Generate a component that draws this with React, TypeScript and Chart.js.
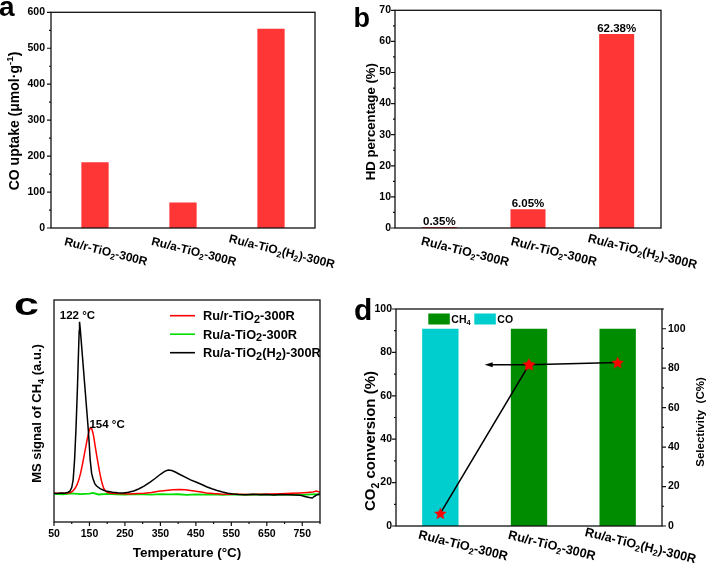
import React, { useEffect, useRef } from 'react';
import { Chart, registerables } from 'chart.js';
Chart.register(...registerables);

const FONT = "'Liberation Sans', Arial, Helvetica, sans-serif";
const RED = '#ff3636';
const GREEN_BAR = '#008c00';
const CYAN_BAR = '#00cdcd';

// ---------- Panel a : CO uptake ----------
const catsA = ['Ru/r-TiO_2-300R', 'Ru/a-TiO_2-300R', 'Ru/a-TiO_2(H_2)-300R'];
const coUptake = [183, 71, 554];

// ---------- Panel b : HD percentage ----------
const catsB = ['Ru/a-TiO_2-300R', 'Ru/r-TiO_2-300R', 'Ru/a-TiO_2(H_2)-300R'];
const hdPercent = [0.35, 6.05, 62.38];
const hdLabels = ['0.35%', '6.05%', '62.38%'];

// ---------- Panel c : CH4 MS signal (TPSR) ----------
const seriesNamesC = ['Ru/r-TiO_2-300R', 'Ru/a-TiO_2-300R', 'Ru/a-TiO_2(H_2)-300R'];
const seriesColorsC = ['#ff0000', '#00dd00', '#000000'];
const tempRed = [50, 65, 80, 95, 100, 105, 110, 115, 120, 125, 130, 135, 140, 144, 148, 152, 156, 160, 163, 166, 170, 174, 178, 182, 186, 190, 195, 200, 210, 225, 245, 265, 285, 305, 325, 345, 365, 385, 405, 420, 435, 450, 465, 480, 500, 520, 545, 570, 600, 630, 660, 690, 720, 745, 765, 780, 790, 800];
const sigRed = [12.9, 13.0, 12.9, 13.2, 13.6, 14.3, 15.3, 16.8, 19.0, 22.0, 25.8, 30.0, 34.2, 37.5, 40.5, 42.3, 42.2, 40.0, 37.3, 34.3, 30.3, 26.6, 23.0, 19.8, 17.2, 15.2, 14.0, 13.4, 13.0, 12.8, 12.7, 12.6, 12.8, 12.9, 13.3, 13.8, 14.2, 14.5, 14.6, 14.5, 14.2, 13.9, 13.5, 13.1, 12.8, 12.6, 12.5, 12.5, 12.4, 12.5, 12.6, 12.7, 12.9, 13.1, 13.3, 13.5, 13.9, 13.4];
const tempGreen = [50, 75, 100, 125, 150, 160, 175, 200, 225, 250, 275, 300, 325, 350, 375, 400, 425, 450, 475, 500, 525, 550, 575, 600, 625, 650, 675, 700, 725, 750, 775, 800];
const sigGreen = [12.7, 12.5, 12.9, 12.6, 12.8, 13.1, 12.4, 12.7, 12.5, 12.3, 12.6, 12.4, 12.3, 12.6, 12.4, 12.5, 12.2, 12.4, 12.3, 12.5, 12.2, 12.4, 12.3, 12.2, 12.4, 12.3, 12.2, 12.4, 12.3, 12.2, 12.4, 12.5];
const tempBlack = [50, 60, 70, 80, 90, 95, 100, 104, 108, 112, 116, 119, 121, 122, 124, 127, 130, 134, 138, 142, 146, 149, 152, 156, 160, 165, 170, 180, 190, 200, 215, 230, 245, 260, 275, 290, 305, 320, 335, 350, 362, 372, 382, 392, 405, 420, 435, 450, 465, 480, 495, 510, 525, 540, 555, 570, 590, 610, 630, 650, 670, 690, 710, 730, 745, 760, 770, 778, 785, 792, 800];
const sigBlack = [13.0, 12.8, 13.1, 13.0, 13.4, 13.9, 15.5, 19.0, 28.0, 42.0, 60.0, 76.0, 86.0, 90.2, 87.0, 81.0, 75.0, 67.0, 59.0, 51.0, 43.0, 36.0, 28.0, 22.0, 19.5, 17.3, 16.2, 15.0, 14.3, 13.8, 13.4, 13.2, 13.1, 13.4, 14.0, 15.0, 16.3, 17.9, 19.6, 21.5, 22.8, 23.4, 23.2, 22.5, 21.4, 20.2, 19.0, 18.0, 17.0, 15.9, 15.0, 14.2, 13.5, 13.0, 12.6, 12.4, 12.3, 12.5, 12.3, 12.4, 12.2, 12.4, 12.3, 12.2, 12.0, 11.4, 11.0, 10.8, 11.6, 12.3, 12.5];
const peakLabels = ['122 °C', '154 °C'];
const peakAnchorT = [116, 150];
const peakAnchorV = [93.2, 44.4];

// ---------- Panel d : CO2 conversion & selectivity ----------
const catsD = ['Ru/a-TiO_2-300R', 'Ru/r-TiO_2-300R', 'Ru/a-TiO_2(H_2)-300R'];
const conversion = [5.8, 74.3, 75.3];
const selectivity = [100, 100, 100];
const mainProduct = ['CO', 'CH_4', 'CH_4'];
const productLegend = ['CH_4', 'CO'];
const arrowToIndex = 0.5;

const productColor = (p: string) => (p === 'CO' ? CYAN_BAR : GREEN_BAR);

// ---------- rich text helpers ----------
type Seg = { t: string; k: 'n' | 'sub' | 'sup' };
function parseRich(s: string): Seg[] {
  const out: Seg[] = [];
  let buf = '';
  let i = 0;
  while (i < s.length) {
    const c = s[i];
    if (c === '_' || c === '^') {
      if (buf) { out.push({ t: buf, k: 'n' }); buf = ''; }
      let content = '';
      if (s[i + 1] === '{') {
        const j = s.indexOf('}', i + 2);
        content = s.slice(i + 2, j);
        i = j + 1;
      } else {
        content = s[i + 1];
        i += 2;
      }
      out.push({ t: content, k: c === '_' ? 'sub' : 'sup' });
    } else {
      buf += c;
      i++;
    }
  }
  if (buf) out.push({ t: buf, k: 'n' });
  return out;
}

function drawRich(ctx: CanvasRenderingContext2D, s: string, x: number, y: number, size: number,
  opts: { align?: 'left' | 'center' | 'right'; angle?: number; color?: string; subScale?: number; subShift?: number; sx?: number } = {}) {
  const segs = parseRich(s);
  const subScale = opts.subScale ?? 0.7;
  ctx.save();
  ctx.translate(x, y);
  if (opts.angle) ctx.rotate(opts.angle);
  if (opts.sx) ctx.scale(opts.sx, 1);
  ctx.fillStyle = opts.color ?? '#000';
  ctx.textBaseline = 'alphabetic';
  ctx.textAlign = 'left';
  const fontFor = (k: string) => `bold ${k === 'n' ? size : size * subScale}px ${FONT}`;
  let W = 0;
  const widths = segs.map((sg) => { ctx.font = fontFor(sg.k); const w = ctx.measureText(sg.t).width; W += w; return w; });
  let cx = opts.align === 'left' ? 0 : opts.align === 'right' ? -W : -W / 2;
  const base = size * 0.36;
  segs.forEach((sg, i) => {
    ctx.font = fontFor(sg.k);
    const dy = sg.k === 'sub' ? size * (opts.subShift ?? 0.22) : sg.k === 'sup' ? -size * 0.4 : 0;
    ctx.fillText(sg.t, cx, base + dy);
    cx += widths[i];
  });
  ctx.restore();
}

function drawLetter(ctx: CanvasRenderingContext2D, ch: string, x: number, baseline: number, size: number, sx = 1) {
  ctx.save();
  ctx.translate(x, baseline);
  ctx.scale(sx, 1);
  ctx.font = `bold ${size}px ${FONT}`;
  ctx.fillStyle = '#000';
  ctx.textBaseline = 'alphabetic';
  ctx.textAlign = 'left';
  ctx.fillText(ch, 0, 0);
  ctx.restore();
}

function drawFrame(ctx: CanvasRenderingContext2D, ca: any) {
  ctx.save();
  ctx.strokeStyle = '#111';
  ctx.lineWidth = 1.3;
  ctx.strokeRect(ca.left, ca.top, ca.right - ca.left, ca.bottom - ca.top);
  ctx.restore();
}

function drawTicks(ctx: CanvasRenderingContext2D, scale: any, orient: 'x' | 'y', at: number, dir: number,
  from: number, to: number, major: number, minor: number) {
  ctx.save();
  ctx.strokeStyle = '#111';
  ctx.lineWidth = 1.2;
  ctx.beginPath();
  const n = Math.round((to - from) / minor);
  for (let i = 0; i <= n; i++) {
    const v = from + i * minor;
    const r = (v - from) / major;
    const isMajor = Math.abs(r - Math.round(r)) < 1e-6;
    const len = isMajor ? 4 : 2;
    const p = scale.getPixelForValue(v);
    if (orient === 'y') { ctx.moveTo(at, p); ctx.lineTo(at + dir * len, p); }
    else { ctx.moveTo(p, at); ctx.lineTo(p, at + dir * len); }
  }
  ctx.stroke();
  ctx.restore();
}

function drawCats(ctx: CanvasRenderingContext2D, scale: any, cats: string[], dx: number, y: number, size: number, angle: number) {
  cats.forEach((c, i) => {
    const x = scale.getPixelForValue(i) + dx;
    drawRich(ctx, c, x, y, size, { angle });
  });
}

const tickFont = (size: number) => ({ family: FONT, size, weight: 'bold' as const });
const noGrid = { grid: { display: false, drawTicks: false, tickLength: 0 }, border: { display: false } };
const baseOpts = {
  animation: false as const,
  responsive: false,
  maintainAspectRatio: false,
  devicePixelRatio: 1,
  events: [] as any[],
  plugins: { legend: { display: false }, tooltip: { enabled: false } },
};
const hiddenCat = (h: number) => ({ type: 'category' as const, offset: true, ...noGrid, ticks: { display: false }, afterFit: (s: any) => { s.height = h; } });
const ANGLE = (14 * Math.PI) / 180;

// ---------- configs ----------
function configA(): any {
  return {
    type: 'bar',
    data: { labels: catsA, datasets: [{ data: coUptake, backgroundColor: RED, borderWidth: 0, barPercentage: 0.31, categoryPercentage: 1 }] },
    options: {
      ...baseOpts,
      layout: { padding: { left: 0, top: 6, right: 40, bottom: 0 } },
      scales: {
        x: hiddenCat(57),
        y: { min: 0, max: 600, ...noGrid, ticks: { stepSize: 100, font: tickFont(10.5), color: '#000', padding: 6 }, afterFit: (s: any) => { s.width = 51; } },
      },
    },
    plugins: [{
      id: 'decorA',
      afterDraw: (chart: any) => {
        const { ctx, chartArea: ca, scales } = chart;
        drawFrame(ctx, ca);
        drawTicks(ctx, scales.y, 'y', ca.left, -1, 0, 600, 100, 50);
        drawCats(ctx, scales.x, catsA, 11, ca.bottom + 23, 12, ANGLE);
        drawRich(ctx, 'CO uptake (μmol·g^{-1})', 14, 121, 14, { angle: -Math.PI / 2 });
        drawLetter(ctx, 'a', -1, 16, 28);
      },
    }],
  };
}

function configB(): any {
  return {
    type: 'bar',
    data: { labels: catsB, datasets: [{ data: hdPercent, backgroundColor: RED, borderWidth: 0, barPercentage: 0.395, categoryPercentage: 1 }] },
    options: {
      ...baseOpts,
      layout: { padding: { left: 0, top: 6, right: 48, bottom: 0 } },
      scales: {
        x: hiddenCat(57),
        y: { min: 0, max: 70, ...noGrid, ticks: { stepSize: 10, font: tickFont(10.5), color: '#000', padding: 4 }, afterFit: (s: any) => { s.width = 40; } },
      },
    },
    plugins: [{
      id: 'decorB',
      afterDraw: (chart: any) => {
        const { ctx, chartArea: ca, scales } = chart;
        drawFrame(ctx, ca);
        drawTicks(ctx, scales.y, 'y', ca.left, -1, 0, 70, 10, 5);
        const meta = chart.getDatasetMeta(0);
        ctx.save();
        ctx.font = `bold 11.5px ${FONT}`;
        ctx.fillStyle = '#000';
        ctx.textAlign = 'center';
        ctx.textBaseline = 'alphabetic';
        meta.data.forEach((el: any, i: number) => { ctx.fillText(hdLabels[i], el.x, el.y - 2); });
        ctx.restore();
        drawCats(ctx, scales.x, catsB, 26, ca.bottom + 23, 12.4, ANGLE);
        drawRich(ctx, 'HD percentage (%)', 15, 121.7, 13.2, { angle: -Math.PI / 2 });
        drawLetter(ctx, 'b', -1.5, 27, 27);
      },
    }],
  };
}

function configC(): any {
  const temps = [tempRed, tempGreen, tempBlack];
  const sigs = [sigRed, sigGreen, sigBlack];
  return {
    type: 'line',
    data: {
      datasets: [2, 0, 1].map((k) => ({
        label: seriesNamesC[k],
        data: temps[k].map((t, i) => ({ x: t, y: sigs[k][i] })),
        borderColor: seriesColorsC[k],
        borderWidth: k === 1 ? 1.8 : 1.5,
        pointRadius: 0,
        tension: 0,
        fill: false,
      })),
    },
    options: {
      ...baseOpts,
      layout: { padding: { left: 0, top: 15, right: 35, bottom: 0 } },
      scales: {
        x: {
          type: 'linear', min: 50, max: 800, ...noGrid,
          ticks: { stepSize: 50, autoSkip: false, maxRotation: 0, font: tickFont(10.5), color: '#000', padding: 6,
            callback: (v: number) => (((v - 50) % 100 === 0) ? String(v) : '') },
          afterFit: (s: any) => { s.height = 50; },
        },
        y: { min: 0, max: 100, ...noGrid, ticks: { display: false }, afterFit: (s: any) => { s.width = 54; } },
      },
    },
    plugins: [{
      id: 'decorC',
      afterDraw: (chart: any) => {
        const { ctx, chartArea: ca, scales } = chart;
        drawFrame(ctx, ca);
        drawTicks(ctx, scales.x, 'x', ca.bottom, 1, 50, 800, 100, 50);
        seriesNamesC.forEach((name, i) => {
          const y = ca.top + 15.7 + i * 18.5;
          ctx.save();
          ctx.strokeStyle = seriesColorsC[i];
          ctx.lineWidth = 1.6;
          ctx.beginPath();
          ctx.moveTo(ca.left + 116, y);
          ctx.lineTo(ca.left + 141, y);
          ctx.stroke();
          ctx.restore();
          drawRich(ctx, name, ca.left + 149, y, 12.8, { align: 'left', subScale: 0.85, subShift: 0.18 });
        });
        drawRich(ctx, peakLabels[0], scales.x.getPixelForValue(peakAnchorT[0]), scales.y.getPixelForValue(peakAnchorV[0]), 11.5);
        drawRich(ctx, peakLabels[1], scales.x.getPixelForValue(peakAnchorT[1]), scales.y.getPixelForValue(peakAnchorV[1]), 11.5, { align: 'left' });
        drawRich(ctx, 'MS signal of CH_4 (a.u.)', 36, 128.5, 13, { angle: -Math.PI / 2 });
        drawRich(ctx, 'Temperature (°C)', (ca.left + ca.right) / 2, 266.7, 13.5);
        drawLetter(ctx, 'c', 14, 30, 32, 1.4);
      },
    }],
  };
}

function makeStar(): HTMLCanvasElement {
  const c = document.createElement('canvas');
  c.width = 15; c.height = 15;
  const g = c.getContext('2d')!;
  const cx = 7.5, cy = 8, R = 6.6, r = R * 0.45;
  g.beginPath();
  for (let i = 0; i < 10; i++) {
    const a = -Math.PI / 2 + (i * Math.PI) / 5;
    const rr = i % 2 === 0 ? R : r;
    const px = cx + rr * Math.cos(a), py = cy + rr * Math.sin(a);
    if (i === 0) g.moveTo(px, py); else g.lineTo(px, py);
  }
  g.closePath();
  g.fillStyle = '#ff0000';
  g.fill();
  return c;
}

function configD(): any {
  const star = makeStar();
  return {
    type: 'bar',
    data: {
      labels: catsD,
      datasets: [
        { type: 'line', data: conversion, yAxisID: 'y', borderColor: '#000', borderWidth: 1.5, pointStyle: star, pointRadius: 7, order: 0, tension: 0 },
        { type: 'bar', data: selectivity, yAxisID: 'y1', backgroundColor: mainProduct.map(productColor), borderWidth: 0, barPercentage: 0.41, categoryPercentage: 1, order: 1 },
      ],
    },
    options: {
      ...baseOpts,
      layout: { padding: { left: 0, top: 24, right: 0, bottom: 0 } },
      scales: {
        x: hiddenCat(46),
        y: { position: 'left', min: 0, max: 100, ...noGrid, ticks: { stepSize: 20, font: tickFont(10.5), color: '#000', padding: 4 }, afterFit: (s: any) => { s.width = 41; } },
        y1: { position: 'right', min: 0, max: 110, ...noGrid,
          ticks: { stepSize: 20, font: tickFont(10.5), color: '#000', padding: 6, callback: (v: number) => (v % 20 === 0 ? String(v) : '') },
          afterFit: (s: any) => { s.width = 47; } },
      },
    },
    plugins: [{
      id: 'decorD',
      afterDatasetsDraw: (chart: any) => {
        const { ctx, scales } = chart;
        const meta = chart.getDatasetMeta(0);
        const p = meta.data[1];
        const xe = scales.x.getPixelForValue(arrowToIndex);
        ctx.save();
        ctx.strokeStyle = '#000';
        ctx.fillStyle = '#000';
        ctx.lineWidth = 1.5;
        ctx.beginPath();
        ctx.moveTo(p.x, p.y);
        ctx.lineTo(xe + 5, p.y);
        ctx.stroke();
        ctx.beginPath();
        ctx.moveTo(xe, p.y);
        ctx.lineTo(xe + 8, p.y - 2.6);
        ctx.lineTo(xe + 8, p.y + 2.6);
        ctx.closePath();
        ctx.fill();
        ctx.restore();
        ctx.drawImage(chart.data.datasets[0].pointStyle, p.x - 7.5, p.y - 8);
      },
      afterDraw: (chart: any) => {
        const { ctx, chartArea: ca, scales } = chart;
        drawFrame(ctx, ca);
        drawTicks(ctx, scales.y, 'y', ca.left, -1, 0, 100, 20, 10);
        drawTicks(ctx, scales.y1, 'y', ca.right, 1, 0, 110, 20, 10);
        const ly = ca.top + 10;
        let lx = ca.left + 32.3;
        productLegend.forEach((name) => {
          ctx.save();
          ctx.fillStyle = productColor(name);
          ctx.fillRect(lx, ly - 5.5, 21.5, 11);
          ctx.restore();
          drawRich(ctx, name, lx + 23, ly, 10.5, { align: 'left', subScale: 0.7, subShift: 0.25 });
          ctx.save();
          ctx.font = `bold 10.5px ${FONT}`;
          const w = ctx.measureText(name.replace('_', '')).width;
          ctx.restore();
          lx += 23 + w + 2;
        });
        drawCats(ctx, scales.x, catsD, 23, ca.bottom + 19, 12.6, ANGLE);
        drawRich(ctx, 'CO_2 conversion (%)', 15, 156, 15, { angle: -Math.PI / 2 });
        drawRich(ctx, 'Selectivity  (C%)', 345, 137, 11.5, { angle: -Math.PI / 2 });
        drawLetter(ctx, 'd', -1, 35, 30);
      },
    }],
  };
}

function ChartCanvas({ make, left, top, width, height }: { make: () => any; left: number; top: number; width: number; height: number }) {
  const ref = useRef<HTMLCanvasElement>(null);
  useEffect(() => {
    const chart = new Chart(ref.current!, make());
    return () => chart.destroy();
  }, []);
  return (
    <canvas ref={ref} width={width} height={height}
      style={{ position: 'absolute', left, top, width, height, display: 'block' }} />
  );
}

export default function App() {
  return (
    <div style={{ position: 'absolute', left: 0, top: 0, width: 709, height: 572, background: '#fff', overflow: 'hidden' }}>
      <ChartCanvas make={configA} left={0} top={0} width={355} height={285} />
      <ChartCanvas make={configB} left={355} top={0} width={354} height={285} />
      <ChartCanvas make={configC} left={0} top={285} width={355} height={287} />
      <ChartCanvas make={configD} left={355} top={285} width={354} height={287} />
    </div>
  );
}
